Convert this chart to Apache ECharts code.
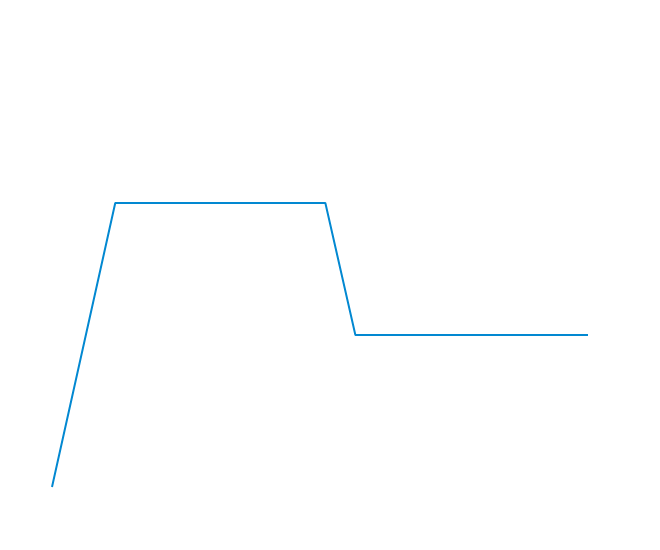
<!DOCTYPE html>
<html>
<head>
<meta charset="utf-8">
<script src="https://cdn.jsdelivr.net/npm/echarts@6/dist/echarts.min.js"></script>
<style>html,body{margin:0;padding:0;background:#fff;}#c{width:660px;height:550px;}</style>
</head>
<body>
<div id="c"></div>
<script>
var xValues = [0, 11.8, 51, 56.6, 100];
var yValues = [0, 100, 100, 53.5, 53.5];

var chart = echarts.init(document.getElementById('c'));
chart.setOption({
  animation: false,
  grid: { left: 52, right: 72, top: 146.2, bottom: 63 },
  xAxis: { type: 'value', min: 0, max: 100, show: false },
  yAxis: { type: 'value', min: 0, max: 120, show: false },
  series: [{
    type: 'line',
    data: xValues.map(function (x, i) { return [x, yValues[i]]; }),
    showSymbol: false,
    symbol: 'none',
    lineStyle: { color: '#0288d1', width: 2 }
  }]
});
</script>
</body>
</html>
